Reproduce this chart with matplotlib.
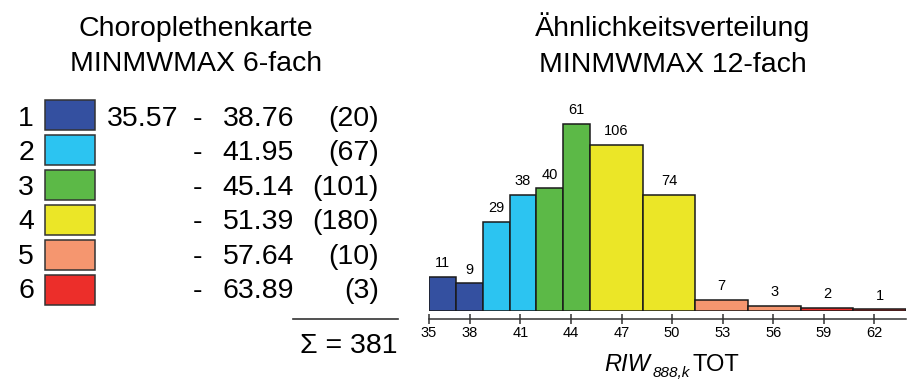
import numpy as np
import matplotlib
matplotlib.use("Agg")
import matplotlib.pyplot as plt
from matplotlib.patches import Rectangle

plt.rcParams['font.family'] = ['Liberation Sans', 'DejaVu Sans']

# class limits (min - mean - max, 6 classes) and counts per class
class_edges = [35.57, 38.76, 41.95, 45.14, 51.39, 57.64, 63.89]
class_counts = [20, 67, 101, 180, 10, 3]
class_colors = ['#3450a0', '#2cc4f1', '#5cb947', '#ebe627', '#f5966f', '#ec2e2a']

# 12-fold histogram: every class split in two halves
bar_counts = [11, 9, 29, 38, 40, 61, 106, 74, 7, 3, 2, 1]
tick_values = [38, 41, 44, 47, 50, 53, 56, 59, 62]

W, H = 918, 381
fig = plt.figure(figsize=(W / 100, H / 100), dpi=100)

# left part: legend table, laid out in pixel units
lay = fig.add_axes([0, 0, 1, 1])
lay.set_xlim(0, W)
lay.set_ylim(H, 0)
lay.axis('off')

lay.text(196, 36, 'Choroplethenkarte', ha='center', va='baseline', fontsize=20.5)
lay.text(196, 71, 'MINMWMAX 6-fach', ha='center', va='baseline', fontsize=20.5)
lay.text(673, 36, 'Ähnlichkeitsverteilung', ha='center', va='baseline', fontsize=20.5)
lay.text(673, 72, 'MINMWMAX 12-fach', ha='center', va='baseline', fontsize=20.5)

for i, (cnt, col) in enumerate(zip(class_counts, class_colors)):
    base = 126 + 34.4 * i
    lay.add_patch(Rectangle((45, 100 + 35 * i), 50, 30, facecolor=col,
                            edgecolor='#333333', linewidth=1.1))
    lay.text(34, base, str(i + 1), ha='right', va='baseline', fontsize=20.5)
    if i == 0:
        lay.text(178, base, '%.2f' % class_edges[0], ha='right', va='baseline', fontsize=20.5)
    lay.text(198, base, '-', ha='center', va='baseline', fontsize=20.5)
    lay.text(294, base, '%.2f' % class_edges[i + 1], ha='right', va='baseline', fontsize=20.5)
    lay.text(379, base, '(%d)' % cnt, ha='right', va='baseline', fontsize=20.5)

lay.plot([293, 398], [319, 319], color='#333333', lw=1.2)
lay.text(398, 353, '\u03a3 = %d' % sum(class_counts), ha='right', va='baseline', fontsize=20.5)

# right part: histogram, bar height = count / bin width
edges = [class_edges[0]]
colors = []
for k in range(len(class_counts)):
    lo, hi = class_edges[k], class_edges[k + 1]
    edges += [(lo + hi) / 2, hi]
    colors += [class_colors[k]] * 2
edges = np.array(edges)
widths = np.diff(edges)
dens = np.array(bar_counts) / widths

ax = fig.add_axes([429 / W, 70 / H, 477 / W, 220 / H])
ax.bar(edges[:-1], dens, width=widths, align='edge', color=colors,
       edgecolor='#1a1a1a', linewidth=1.1)
for x0, w, d, c in zip(edges[:-1], widths, dens, bar_counts):
    ax.annotate(str(c), (x0 + w / 2, d), xytext=(0, 10), textcoords='offset points',
                ha='center', va='center', fontsize=10.5)

ax.set_xlim(edges[0], edges[-1])
ax.set_ylim(0, 45)
ticks = [edges[0]] + tick_values
ax.set_xticks(ticks)
ax.set_xticklabels([str(int(t)) for t in ticks])
ax.set_yticks([])
for s in ['top', 'right', 'left']:
    ax.spines[s].set_visible(False)
ax.spines['bottom'].set_position(('outward', 5.8))
ax.spines['bottom'].set_bounds(edges[0], edges[-1])
ax.spines['bottom'].set_color('#333333')
ax.spines['bottom'].set_linewidth(1.1)
ax.tick_params(axis='x', direction='inout', length=7, width=1.1, color='#333333',
               pad=1.5, labelsize=10.5)
ax.patch.set_visible(False)

# x label RIW_888,k TOT, built from three pieces placed side by side
parts = [('RIW', 17, 'italic', 0), ('888,k', 11, 'italic', -6), ('TOT', 17, 'normal', 0)]
r = fig.canvas.get_renderer()
pieces = []
for s, fs, st, dy in parts:
    t = lay.text(0, 371 - dy, s, fontsize=fs, style=st, ha='left', va='baseline')
    pieces.append(t)
gaps = [0, 2, 3]
widths_px = [t.get_window_extent(r).width for t in pieces]
x = 672 - (sum(widths_px) + sum(gaps)) / 2
for t, wp, g in zip(pieces, widths_px, gaps):
    x += g
    t.set_x(x)
    x += wp

fig.savefig('out.png', dpi=100)
